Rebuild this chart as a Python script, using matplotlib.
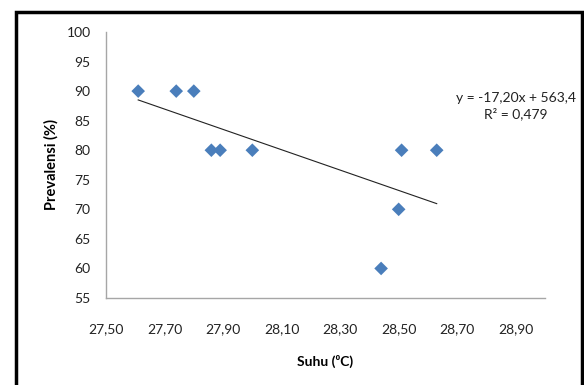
import numpy as np
import matplotlib.pyplot as plt
from matplotlib.patches import Rectangle

# Suhu (C) vs prevalensi (%)
suhu = [27.61, 27.74, 27.80, 27.86, 27.89, 28.00, 28.44, 28.50, 28.51, 28.63]
prevalensi = [90, 90, 90, 80, 80, 80, 60, 70, 80, 80]

# linear trendline coefficients and R squared
slope = -17.20
intercept = 563.4
r2 = 0.479

x_ticks = [27.50, 27.70, 27.90, 28.10, 28.30, 28.50, 28.70, 28.90]
y_ticks = [55, 60, 65, 70, 75, 80, 85, 90, 95, 100]

plt.rcParams['font.family'] = ['Lato', 'DejaVu Sans']

fig = plt.figure(figsize=(5.84, 3.85), dpi=100)
W, H = 584, 385
ax = fig.add_axes([106 / W, 1 - 298 / H, (545 - 106) / W, (298 - 32) / H])

ax.scatter(suhu, prevalensi, marker='D', s=48, color='#4a7ebb', edgecolors='none', zorder=3)

# trendline over the data range
xt = np.array([min(suhu), max(suhu)])
ax.plot(xt, slope * xt + intercept, color='#222222', lw=0.8, zorder=2)

ax.set_xlim(27.5, 29.0)
ax.set_ylim(55, 100)
ax.set_xticks(x_ticks)
ax.set_xticklabels([f'{v:.2f}'.replace('.', ',') for v in x_ticks])
ax.set_yticks(y_ticks)
ax.tick_params(axis='both', length=0, labelsize=10, colors='#222222')
ax.tick_params(axis='x', pad=18)
ax.tick_params(axis='y', pad=11)

for side in ['top', 'right']:
    ax.spines[side].set_visible(False)
for side in ['left', 'bottom']:
    ax.spines[side].set_color('#a6a6a6')
    ax.spines[side].set_linewidth(1.0)

ax.set_xlabel('Suhu (⁰C)', fontsize=10, fontweight='bold', labelpad=14)
ax.set_ylabel('Prevalensi (%)', fontsize=10.5, fontweight='bold', labelpad=6)

eq = 'y = {}x + {}\nR² = {}'.format(f'{slope:.2f}'.replace('.', ','),
                                      f'{intercept:.1f}'.replace('.', ','),
                                      f'{r2:.3f}'.replace('.', ','))
fig.text(516 / W, 1 - 106 / H, eq, ha='center', va='center', multialignment='center',
         fontsize=10, color='#222222', linespacing=1.35)

# outer frame
fig.patches.append(Rectangle((15.5 / W, -0.05), (582 - 15.5) / W, 1.05 - 12 / H,
                             transform=fig.transFigure, fill=False,
                             edgecolor='black', linewidth=2.5))

fig.savefig('out.png', dpi=100)
